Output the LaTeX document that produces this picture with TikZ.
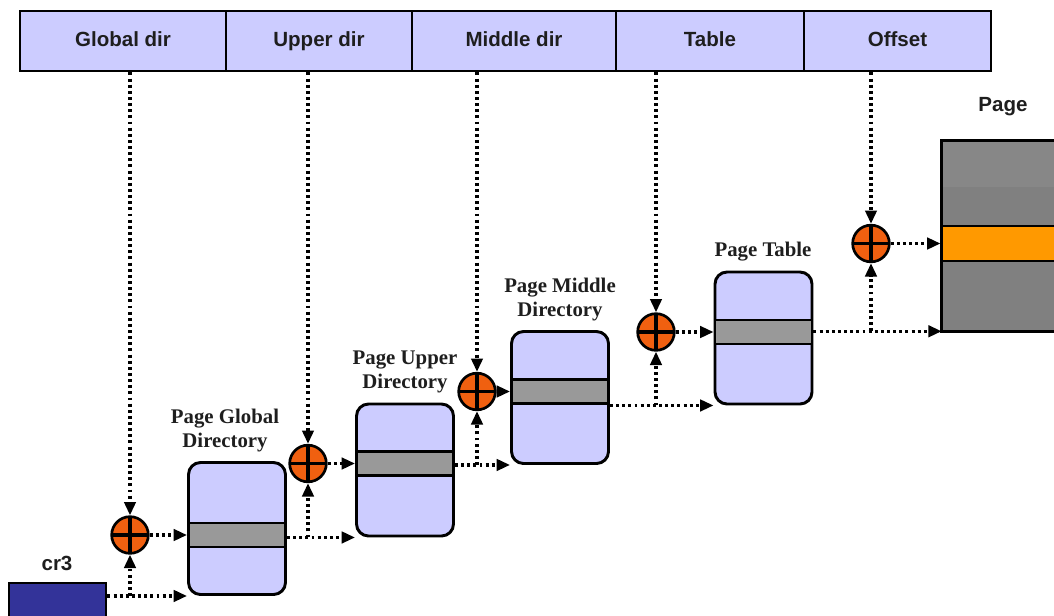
\documentclass[tikz,border=0pt]{standalone}
\usepackage{fontspec}
\setmainfont{Liberation Serif}
\setsansfont{Liberation Sans}
\usetikzlibrary{arrows.meta}

\definecolor{cellfill}{RGB}{204,204,255}
\definecolor{bandgray}{RGB}{153,153,153}
\definecolor{pagegray}{RGB}{128,128,128}
\definecolor{pagetop}{RGB}{135,135,135}
\definecolor{offsetband}{RGB}{255,153,0}
\definecolor{crblue}{RGB}{51,51,153}
\definecolor{adderfill}{RGB}{240,96,16}
\definecolor{inktext}{RGB}{30,30,30}

\begin{document}
\begin{tikzpicture}[x=0.75pt,y=-0.75pt,
  field/.style={draw, line width=2.2pt, fill=cellfill, minimum height=45pt,
    inner sep=0pt, text height=11pt, text depth=3pt, text=inktext,
    font=\sffamily\bfseries\fontsize{15.4}{18}\selectfont},
  table/.style={draw, line width=2.2pt, fill=cellfill, rounded corners=9pt,
    minimum width=72.75pt, minimum height=99pt, inner sep=0pt},
  entry/.style={draw, line width=2.2pt, fill=bandgray,
    minimum width=72.75pt, minimum height=18pt, inner sep=0pt},
  title/.style={align=center, text=inktext, inner sep=0pt,
    font=\bfseries\fontsize{15.6}{18}\selectfont},
  sanslabel/.style={text=inktext, inner sep=0pt,
    font=\sffamily\bfseries\fontsize{15.4}{18}\selectfont},
  adder/.style={circle, draw, line width=2pt, fill=adderfill,
    minimum size=27.5pt, inner sep=0pt,
    path picture={\draw[line width=2.3pt]
      (path picture bounding box.north) -- (path picture bounding box.south)
      (path picture bounding box.west) -- (path picture bounding box.east);}},
  link/.style={line width=2.4pt, dash pattern=on 2.2pt off 2.4pt,
    -{Triangle[length=10pt,width=8.5pt]}}]

\useasboundingbox (0,0) rectangle (1054,615);

% linear address fields
\node[field, minimum width=154.5pt] (fglobal) at (123,41)   {Global dir};
\node[field, minimum width=139.5pt] (fupper)  at (319,41)   {Upper dir};
\node[field, minimum width=153pt]   (fmiddle) at (514,41)   {Middle dir};
\node[field, minimum width=141pt]   (ftable)  at (710,41)   {Table};
\node[field, minimum width=140.25pt](foffset) at (897.5,41) {Offset};

% cr3 register
\node[draw, line width=2.2pt, fill=crblue, minimum width=72.75pt,
      minimum height=49.5pt, inner sep=0pt] (cr3) at (57.5,616) {};
\node[sanslabel] (cr3lbl) at (57,563) {cr3};

% translation tables
\node[table] (pgd) at (237,528.5) {};
\node[entry] (pgde) at (237,535) {};
\node[title] (pgdlbl) at (225,431) {Page Global\\Directory};

\node[table] (pud) at (405,470) {};
\node[entry] (pude) at (405,463.5) {};
\node[title] (pudlbl) at (405,372) {Page Upper\\Directory};

\node[table] (pmd) at (560,397.5) {};
\node[entry] (pmde) at (560,391.5) {};
\node[title] (pmdlbl) at (560,300) {Page Middle\\Directory};

\node[table] (pt) at (763.5,338) {};
\node[entry] (pte) at (763.5,332) {};
\node[title] (ptlbl) at (763,252) {Page Table};

% physical page
\node[fill=pagegray, minimum width=105pt, minimum height=142.5pt,
      inner sep=0pt] (page) at (1012,236) {};
\fill[pagetop] (page.north west) rectangle (page.east |- 0,187);
\node[draw, line width=2.2pt, fill=offsetband, minimum width=105pt,
      minimum height=26.25pt, inner sep=0pt] (pageword) at (1012,243.5) {};
\draw[line width=2.2pt] (page.south west) rectangle (page.north east);
\node[sanslabel] (pagelbl) at (1003,107) {Page};

% adders
\node[adder] (a1) at (130,535)   {};
\node[adder] (a2) at (308,463.5) {};
\node[adder] (a3) at (477,391.5) {};
\node[adder] (a4) at (656,332)   {};
\node[adder] (a5) at (871,243.5) {};

% index fields into the adders
\draw[link] (a1 |- fglobal.south) -- (a1.north);
\draw[link] (a2 |- fupper.south)  -- (a2.north);
\draw[link] (a3 |- fmiddle.south) -- (a3.north);
\draw[link] (a4 |- ftable.south)  -- (a4.north);
\draw[link] (a5 |- foffset.south) -- (a5.north);

% base addresses
\draw[link] (cr3.east |- pgd.south) -- (pgd.south west);
\draw[link] (a1 |- pgd.south) -- (a1.south);
\draw[link] (pgd.east |- pud.south) -- (pud.south west);
\draw[link] (a2 |- pud.south) -- (a2.south);
\draw[link] (pud.east |- pmd.south) -- (pmd.south west);
\draw[link] (a3 |- pmd.south) -- (a3.south);
\draw[link] (pmd.east |- pt.south) -- (pt.south west);
\draw[link] (a4 |- pt.south) -- (a4.south);
\draw[link] (pt.east |- page.south) -- (page.south west);
\draw[link] (a5 |- page.south) -- (a5.south);

% selected entries
\draw[link] (a1.east) -- (pgde.west);
\draw[link] (a2.east) -- (pude.west);
\draw[link] (a3.east) -- (pmde.west);
\draw[link] (a4.east) -- (pte.west);
\draw[link] (a5.east) -- (pageword.west);
\end{tikzpicture}
\end{document}
